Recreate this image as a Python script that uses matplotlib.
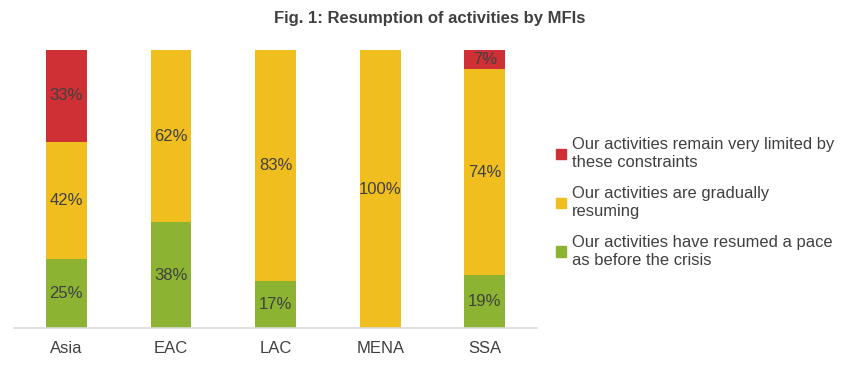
import numpy as np
import matplotlib
matplotlib.use("Agg")
import matplotlib.pyplot as plt
from matplotlib.patches import Patch

plt.rcParams['font.family'] = ['Liberation Sans', 'DejaVu Sans']

regions = ["Asia", "EAC", "LAC", "MENA", "SSA"]
resumed = [25, 38, 17, 0, 19]
gradual = [42, 62, 83, 100, 74]
limited = [33, 0, 0, 0, 7]
series_names = [
    "Our activities remain very limited by\nthese constraints",
    "Our activities are gradually\nresuming",
    "Our activities have resumed a pace\nas before the crisis",
]

GREEN = "#8CB432"
YELLOW = "#F0BE1E"
RED = "#CF3035"
TEXT = "#404040"

fig = plt.figure(figsize=(8.5, 3.65), dpi=100)
ax = fig.add_axes([0.0165, 0.101, 0.6155, 0.762])

x = np.arange(len(regions))
w = 0.39
bottom = np.zeros(len(regions))
for vals, col in [(resumed, GREEN), (gradual, YELLOW), (limited, RED)]:
    vals = np.array(vals, dtype=float)
    ax.bar(x, vals, w, bottom=bottom, color=col, linewidth=0)
    for xi, b, v in zip(x, bottom, vals):
        if v > 0:
            ax.text(xi, b + v / 2, f"{int(v)}%", ha="center", va="center",
                    fontsize=12, color=TEXT)
    bottom += vals

ax.set_xlim(-0.5, len(regions) - 0.5)
ax.set_ylim(0, 100)
ax.set_xticks(x)
ax.set_xticklabels(regions, fontsize=12, color=TEXT)
ax.tick_params(axis="x", length=0, pad=9)
ax.set_yticks([])
for s in ["top", "right", "left"]:
    ax.spines[s].set_visible(False)
ax.spines["bottom"].set_color("#D9D9D9")
ax.spines["bottom"].set_linewidth(1.2)

fig.text(0.505, 0.948, "Fig. 1: Resumption of activities by MFIs", ha="center",
         va="center", fontsize=12, fontweight="bold", color=TEXT)

handles = [Patch(facecolor=c, edgecolor=c) for c in [RED, YELLOW, GREEN]]
leg = fig.legend(handles, series_names, loc="center left", bbox_to_anchor=(0.637, 0.445),
                 frameon=False, fontsize=11.9, labelcolor=TEXT, handlelength=0.6,
                 handleheight=0.6, handletextpad=0.35, labelspacing=0.95)
for t in leg.get_texts():
    t.set_linespacing(1.25)

fig.savefig("out.png", dpi=100)
